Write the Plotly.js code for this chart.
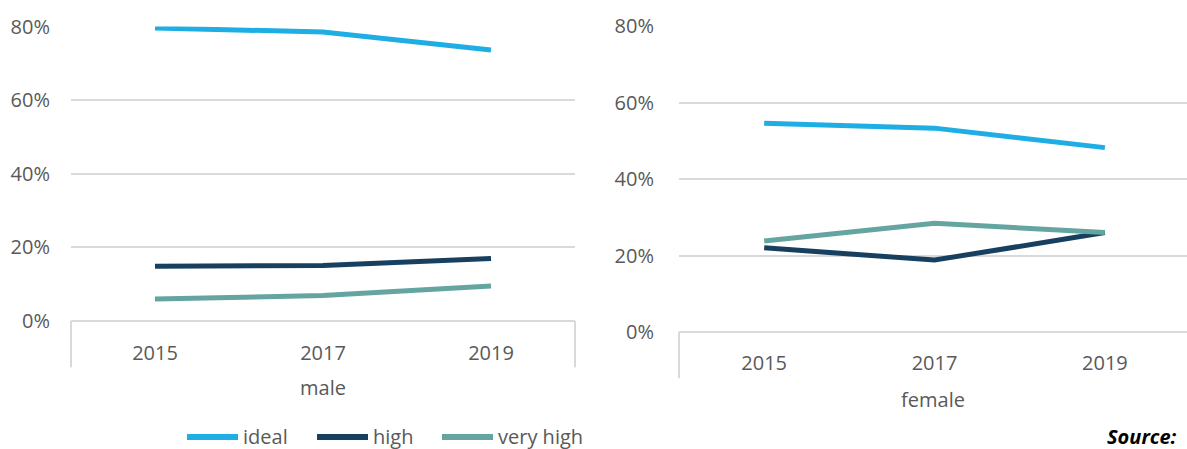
<!DOCTYPE html>
<html>
<head>
<meta charset="utf-8">
<script src="https://cdn.plot.ly/plotly-3.0.1.min.js"></script>
<style>
html,body{margin:0;padding:0;overflow:hidden;background:#fff;width:1187px;height:449px;}
#chart{width:1187px;height:449px;overflow:hidden;}
</style>
</head>
<body>
<div id="chart"></div>
<script>
const years = ['2015', '2017', '2019'];
const seriesNames = ['ideal', 'high', 'very high'];
const maleIdeal = [0.796, 0.785, 0.736];
const maleHigh = [0.149, 0.151, 0.170];
const maleVeryHigh = [0.060, 0.069, 0.095];
const femaleIdeal = [0.546, 0.533, 0.482];
const femaleHigh = [0.220, 0.188, 0.260];
const femaleVeryHigh = [0.238, 0.284, 0.260];
const yTicks = [0, 0.2, 0.4, 0.6, 0.8];
const yTickText = ['0%', '20%', '40%', '60%', '80%'];
const panelTitles = ['male', 'female'];

const colors = ['#1EAEE3', '#173F60', '#64A59F'];
const font = 'Open Sans, Noto Sans, sans-serif';
const grey = '#595959';

const W = 1187, H = 449;
function px(x){return x / W;}
function py(y){return (H - y) / H;}

const maleSeries = [maleIdeal, maleHigh, maleVeryHigh];
const femaleSeries = [femaleIdeal, femaleHigh, femaleVeryHigh];
const traces = [];
maleSeries.forEach((s, i) => traces.push({
  x: years, y: s, type: 'scatter', mode: 'lines', name: seriesNames[i],
  line: {color: colors[i], width: 5}, xaxis: 'x', yaxis: 'y', showlegend: false
}));
femaleSeries.forEach((s, i) => traces.push({
  x: years, y: s, type: 'scatter', mode: 'lines', name: seriesNames[i],
  line: {color: colors[i], width: 5}, xaxis: 'x2', yaxis: 'y2', showlegend: false
}));

const tickFont = {family: font, size: 20, color: grey};
function xAxis(domain, anchor, title, range, tickStandoff, titleStandoff){
  return {
    domain: domain, anchor: anchor, type: 'category', range: range,
    showgrid: false, zeroline: false, showline: false, ticks: '',
    tickfont: tickFont, ticklabelstandoff: tickStandoff,
    title: {text: title, font: tickFont, standoff: titleStandoff},
    fixedrange: true
  };
}
function yAxis(domain, anchor, standoff){
  return {
    domain: domain, anchor: anchor, range: [0, 0.8], tickvals: yTicks, ticktext: yTickText,
    showgrid: true, gridcolor: '#D9D9D9', gridwidth: 2, zeroline: false, showline: false,
    ticks: '', tickfont: tickFont, ticklabelstandoff: standoff, fixedrange: true
  };
}

const lineStyle = {color: '#D9D9D9', width: 2};
const shapes = [];
[['x', 'y', -0.157, true], ['x2', 'y2', -0.151, false]].forEach(([xa, ya, ext, rightEdge]) => {
  shapes.push({type: 'line', xref: xa + ' domain', yref: ya + ' domain', x0: 0, x1: 1, y0: 0, y1: 0, line: lineStyle, layer: 'below'});
  shapes.push({type: 'line', xref: xa + ' domain', yref: ya + ' domain', x0: 0, x1: 0, y0: 0, y1: ext, line: lineStyle, layer: 'below'});
  if (rightEdge) shapes.push({type: 'line', xref: xa + ' domain', yref: ya + ' domain', x0: 1, x1: 1, y0: 0, y1: ext, line: lineStyle, layer: 'below'});
});

// manual legend (long line keys like the original)
const legendX = [185, 315, 440];
const legendY = 437;
const annotations = [];
seriesNames.forEach((n, i) => {
  shapes.push({type: 'line', xref: 'paper', yref: 'paper', x0: px(legendX[i] + 2), x1: px(legendX[i] + 53),
    y0: py(legendY), y1: py(legendY), line: {color: colors[i], width: 6}});
  annotations.push({text: n, xref: 'paper', yref: 'paper', x: px(legendX[i] + 56), y: py(legendY - 1),
    xanchor: 'left', yanchor: 'middle', showarrow: false, font: {family: font, size: 20, color: grey}});
});
annotations.push({
  text: '<b><i>Source:</i></b>', xref: 'paper', yref: 'paper',
  x: px(1178), y: py(436), xanchor: 'right', yanchor: 'middle', showarrow: false,
  borderpad: 0, font: {family: font, size: 20, color: '#000'}
});

const layout = {
  width: W, height: H,
  margin: {l: 0, r: 0, t: 0, b: 0},
  paper_bgcolor: '#fff', plot_bgcolor: '#fff',
  font: {family: font, size: 20, color: grey},
  xaxis: xAxis([px(71), px(575)], 'y', panelTitles[0], [-0.5, 2.5], 18, 15),
  yaxis: yAxis([py(321), py(26.5)], 'x', 20),
  xaxis2: xAxis([px(679), px(1187)], 'y2', panelTitles[1], [-0.5, 2.482], 17, 17),
  yaxis2: yAxis([py(332), py(26)], 'x2', 24),
  showlegend: false,
  shapes: shapes,
  annotations: annotations
};

Plotly.newPlot('chart', traces, layout, {displayModeBar: false, staticPlot: true});
</script>
</body>
</html>
